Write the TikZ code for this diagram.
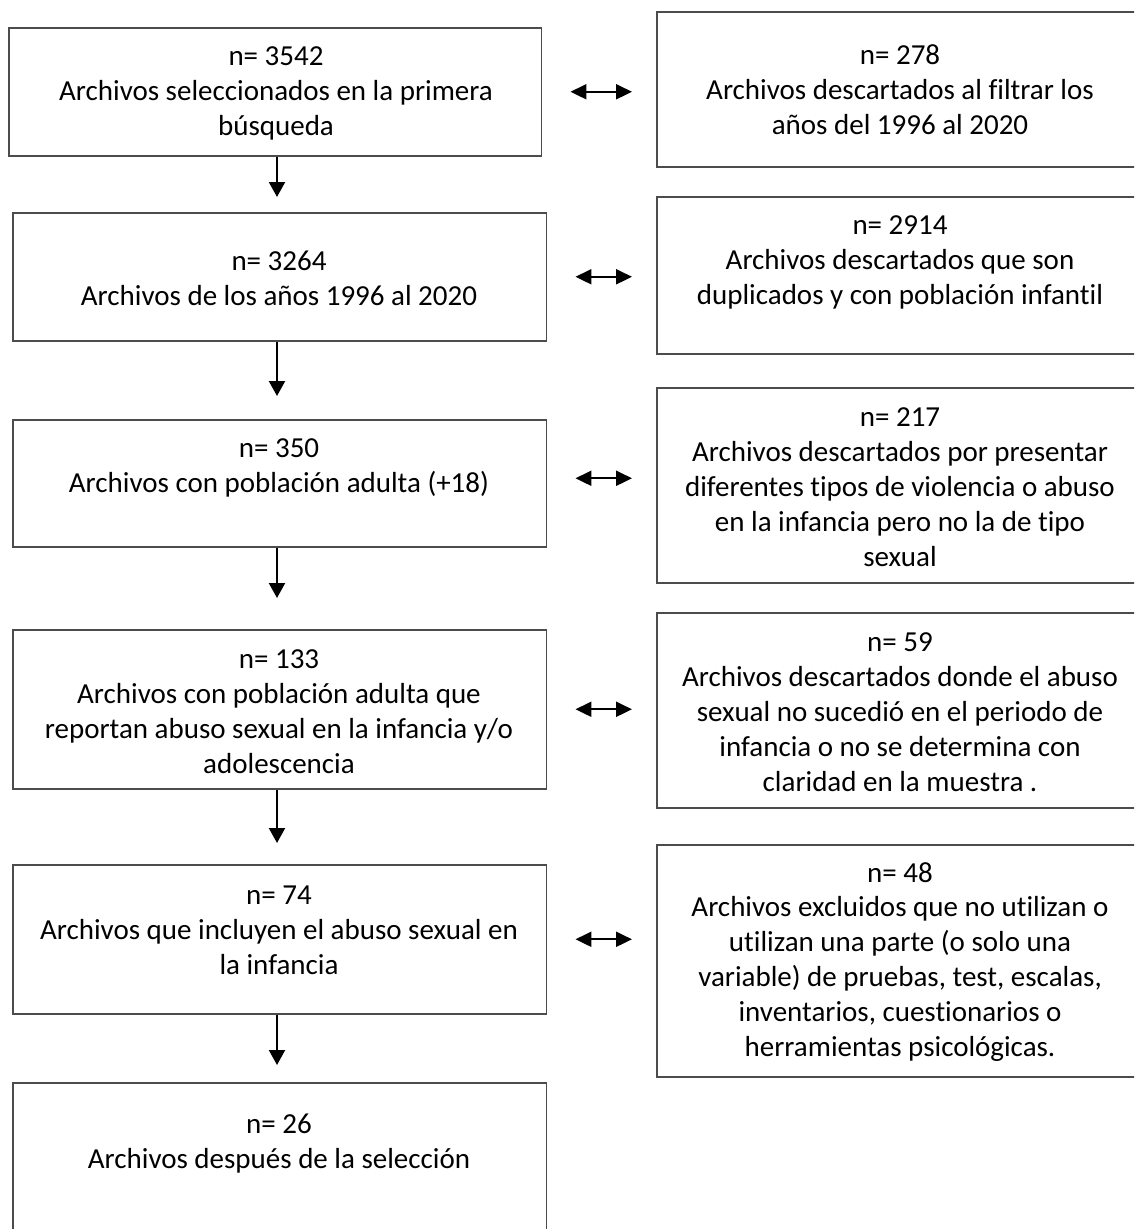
\documentclass[tikz,border=0pt]{standalone}
\usepackage{fontspec}
\setmainfont[Ligatures=NoCommon]{Carlito}
\usetikzlibrary{positioning,calc,arrows.meta}

\tikzset{
    box/.style={draw=black!70, line width=0.9pt, inner sep=0pt, anchor=north west},
    txt/.style={align=center, inner sep=0pt, font=\fontsize{16.5}{19.9}\selectfont},
    down/.style={-{Triangle[length=0.3cm,width=0.32cm]}, line width=1.2pt},
    both/.style={{Triangle[length=0.32cm,width=0.3cm]}-{Triangle[length=0.32cm,width=0.3cm]}, line width=1.2pt, shorten <=0.56cm, shorten >=0.48cm},
}

\begin{document}
\begin{tikzpicture}[x=0.02cm, y=-0.02cm]
    \useasboundingbox (0,0) rectangle (1134,1229);
    \clip (0,0) rectangle (1134,1229);

    % left column
    \node[box, minimum width=10.66cm, minimum height=2.56cm] (b1) at (8,27) {};
    \node[box, minimum width=10.68cm, minimum height=2.56cm] (b2) at (12,212) {};
    \node[box, minimum width=10.68cm, minimum height=2.54cm] (b3) at (12,419) {};
    \node[box, minimum width=10.68cm, minimum height=3.18cm] (b4) at (12,629) {};
    \node[box, minimum width=10.68cm, minimum height=2.98cm] (b5) at (12,864) {};
    \node[box, minimum width=10.68cm, minimum height=3.2cm] (b6) at (12,1082) {};

    \node[txt] (t1) at (276,93) {n= 3542\\Archivos seleccionados en la primera\\búsqueda};
    \node[txt] (t2) at (279,278) {n= 3264\\Archivos de los años 1996 al 2020};
    \node[txt] (t3) at (279,468) {n= 350\\Archivos con población adulta (+18)};
    \node[txt] (t4) at (279,712) {n= 133\\Archivos con población adulta que\\reportan abuso sexual en la infancia y/o\\adolescencia};
    \node[txt] (t5) at (279,930) {n= 74\\Archivos que incluyen el abuso sexual en\\la infancia};
    \node[txt] (t6) at (279,1144) {n= 26\\Archivos después de la selección};

    % right column
    \node[box, minimum width=9.68cm, minimum height=3.1cm] (r1) at (656,11) {};
    \node[box, minimum width=9.68cm, minimum height=3.14cm] (r2) at (656,196) {};
    \node[box, minimum width=9.68cm, minimum height=3.9cm] (r3) at (656,387) {};
    \node[box, minimum width=9.68cm, minimum height=3.9cm] (r4) at (656,612) {};
    \node[box, minimum width=9.68cm, minimum height=4.64cm] (r5) at (656,844) {};

    \node[txt] (s1) at (900,90) {n= 278\\Archivos descartados al filtrar los\\años del 1996 al 2020};
    \node[txt] (s2) at (900,262) {n= 2914\\Archivos descartados que son\\duplicados y con población infantil};
    \node[txt] (s3) at (900,487) {n= 217\\Archivos descartados por presentar\\diferentes tipos de violencia o abuso\\en la infancia pero no la de tipo\\sexual};
    \node[txt] (s4) at (900,712) {n= 59\\Archivos descartados donde el abuso\\sexual no sucedió en el periodo de\\infancia o no se determina con\\claridad en la muestra .};
    \node[txt] (s5) at (900,962) {n= 48\\Archivos excluidos que no utilizan o\\utilizan una parte (o solo una\\variable) de pruebas, test, escalas,\\inventarios, cuestionarios o\\herramientas psicológicas.};

    % flow down
    \draw[down, shorten >=0.3cm] (b1.south -| 277,0) -- (b2.north -| 277,0);
    \draw[down, shorten >=0.46cm] (b2.south -| 277,0) -- (b3.north -| 277,0);
    \draw[down, shorten >=0.62cm] (b3.south -| 277,0) -- (b4.north -| 277,0);
    \draw[down, shorten >=0.42cm] (b4.south -| 277,0) -- (b5.north -| 277,0);
    \draw[down, shorten >=0.34cm] (b5.south -| 277,0) -- (b6.north -| 277,0);

    % exclusions
    \draw[both] (b1.east) -- (b1.east -| r1.west);
    \draw[both] (b2.east) -- (b2.east -| r2.west);
    \draw[both] ($(b3.east)+(0,-5)$) -- ($(b3.east -| r3.west)+(0,-5)$);
    \draw[both] (b4.east) -- (b4.east -| r4.west);
    \draw[both] (b5.east) -- (b5.east -| r5.west);
\end{tikzpicture}
\end{document}
